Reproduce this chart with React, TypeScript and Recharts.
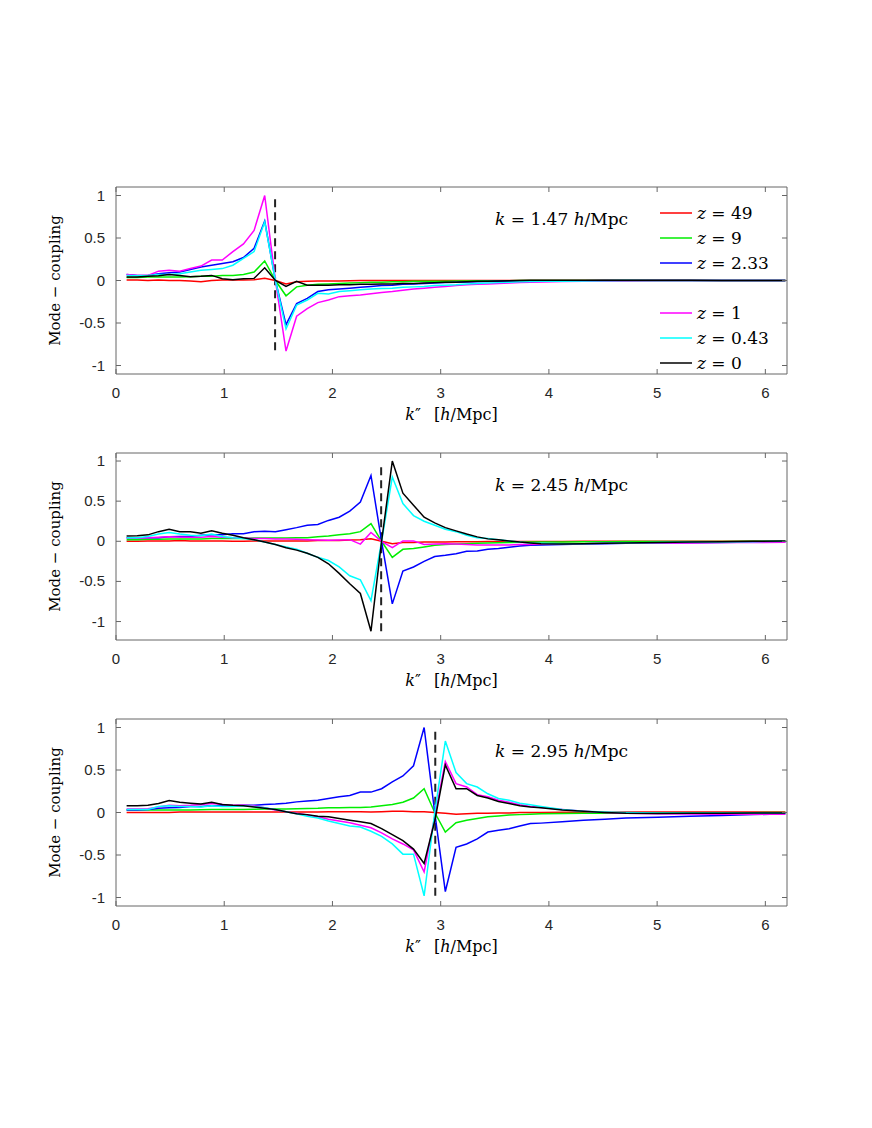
import React from "react";
import { LineChart, Line, XAxis, YAxis, ReferenceArea, ReferenceLine, Legend } from "recharts";

// k'' grid (h/Mpc)
const kpp = [
  0.098, 0.196, 0.295, 0.393, 0.491, 0.589, 0.687, 0.785, 0.884, 0.982,
  1.08, 1.178, 1.276, 1.374, 1.473, 1.571, 1.669, 1.767, 1.865, 1.963,
  2.062, 2.16, 2.258, 2.356, 2.454, 2.553, 2.651, 2.749, 2.847, 2.945,
  3.043, 3.142, 3.24, 3.338, 3.436, 3.534, 3.632, 3.731, 3.829, 3.927,
  4.123, 4.32, 4.516, 4.712, 5.007, 5.301, 5.596, 5.89, 6.185,
];

// panel 1: k = 1.47
const red1 = [
  0.005, 0.005, 0, 0.005, 0, 0, -0.005, -0.015, 0, 0.005,
  0.005, 0.005, 0.01, 0.025, 0, -0.04, -0.015, -0.01, -0.005, -0.005,
  -0.005, -0.003, 0, 0, 0, 0, 0, 0, 0, 0,
  0, 0, 0, 0, 0, 0, 0, 0, 0, 0,
  0, 0, 0, 0, 0, 0, 0, 0, 0,
];
const green1 = [
  0.035, 0.035, 0.04, 0.04, 0.04, 0.04, 0.045, 0.05, 0.05, 0.06,
  0.06, 0.07, 0.1, 0.23, 0, -0.18, -0.075, -0.055, -0.045, -0.04,
  -0.035, -0.03, -0.025, -0.02, -0.02, -0.015, -0.015, -0.01, -0.01, -0.01,
  -0.008, -0.006, -0.005, -0.004, -0.003, -0.002, -0.002, -0.001, 0, 0,
  0, 0, 0, 0, 0, 0, 0, 0, 0,
];
const blue1 = [
  0.07, 0.06, 0.06, 0.08, 0.09, 0.1, 0.13, 0.16, 0.18, 0.2,
  0.22, 0.27, 0.38, 0.7, 0, -0.52, -0.27, -0.21, -0.13, -0.11,
  -0.1, -0.09, -0.08, -0.07, -0.06, -0.055, -0.045, -0.04, -0.035, -0.03,
  -0.025, -0.02, -0.018, -0.015, -0.012, -0.01, -0.008, -0.006, -0.005, -0.004,
  -0.003, -0.002, 0, 0, 0, 0, 0, 0, 0,
];
const magenta1 = [
  0.07, 0.06, 0.06, 0.11, 0.12, 0.11, 0.14, 0.17, 0.24, 0.24,
  0.34, 0.43, 0.59, 1.0, 0, -0.83, -0.42, -0.33, -0.26, -0.23,
  -0.19, -0.18, -0.17, -0.155, -0.14, -0.13, -0.115, -0.1, -0.09, -0.08,
  -0.07, -0.06, -0.05, -0.045, -0.04, -0.035, -0.03, -0.025, -0.02, -0.018,
  -0.012, -0.008, -0.005, -0.003, 0, 0, 0, 0, 0,
];
const cyan1 = [
  0.06, 0.055, 0.06, 0.07, 0.07, 0.08, 0.1, 0.12, 0.13, 0.14,
  0.18, 0.26, 0.34, 0.69, 0, -0.57, -0.29, -0.23, -0.15, -0.16,
  -0.13, -0.12, -0.11, -0.1, -0.095, -0.09, -0.08, -0.075, -0.07, -0.06,
  -0.055, -0.05, -0.04, -0.035, -0.03, -0.025, -0.02, -0.015, -0.012, -0.01,
  -0.008, -0.005, -0.003, 0, 0, 0, 0, 0, 0,
];
const black1 = [
  0.04, 0.04, 0.05, 0.055, 0.07, 0.06, 0.045, 0.05, 0.06, 0.02,
  0.01, 0.02, 0.025, 0.15, 0, -0.07, -0.01, -0.055, -0.055, -0.055,
  -0.05, -0.05, -0.045, -0.045, -0.04, -0.04, -0.035, -0.035, -0.03, -0.025,
  -0.02, -0.02, -0.015, -0.01, -0.008, -0.005, -0.003, 0, 0.002, 0.002,
  0.003, 0.003, 0.003, 0.002, 0.002, 0.002, 0.001, 0.001, 0,
];

// panel 2: k = 2.45
const red2 = [
  0, 0, 0.005, 0.005, 0.005, 0.01, 0.005, 0.005, 0.005, 0.005,
  0, 0, 0.005, 0.005, 0.005, 0.005, 0.005, 0.005, 0.01, 0.01,
  0.01, 0.015, 0.02, 0.03, 0, -0.03, -0.015, -0.015, -0.01, -0.01,
  -0.008, -0.006, -0.005, -0.005, -0.004, -0.004, -0.003, -0.003, -0.002, -0.002,
  -0.002, -0.001, 0, 0, 0, 0, 0, 0, 0,
];
const green2 = [
  0.02, 0.02, 0.025, 0.025, 0.03, 0.03, 0.03, 0.03, 0.035, 0.035,
  0.035, 0.035, 0.04, 0.04, 0.04, 0.04, 0.045, 0.045, 0.055, 0.065,
  0.08, 0.095, 0.12, 0.22, 0, -0.2, -0.1, -0.09, -0.07, -0.05,
  -0.04, -0.035, -0.03, -0.025, -0.02, -0.018, -0.015, -0.012, -0.01, -0.01,
  -0.008, -0.006, -0.005, -0.004, -0.003, -0.002, -0.002, -0.001, 0,
];
const blue2 = [
  0.045, 0.045, 0.045, 0.045, 0.055, 0.06, 0.06, 0.075, 0.08, 0.08,
  0.095, 0.095, 0.12, 0.125, 0.12, 0.145, 0.17, 0.2, 0.21, 0.26,
  0.3, 0.375, 0.49, 0.82, 0, -0.78, -0.37, -0.32, -0.25, -0.19,
  -0.175, -0.155, -0.125, -0.12, -0.1, -0.09, -0.075, -0.06, -0.05, -0.045,
  -0.04, -0.035, -0.03, -0.025, -0.02, -0.018, -0.015, -0.01, -0.008,
];
const magenta2 = [
  0.04, 0.04, 0.045, 0.05, 0.055, 0.05, 0.05, 0.05, 0.06, 0.05,
  0.045, 0.04, 0.035, 0.035, 0.03, 0.03, 0.025, 0.02, 0.015, 0.012,
  0.015, 0.02, -0.035, 0.11, 0, -0.08, 0.005, 0.005, -0.04, -0.035,
  -0.03, -0.035, -0.04, -0.045, -0.045, -0.045, -0.045, -0.04, -0.04, -0.035,
  -0.03, -0.03, -0.025, -0.025, -0.02, -0.02, -0.015, -0.015, -0.012,
];
const cyan2 = [
  0.045, 0.045, 0.06, 0.09, 0.11, 0.09, 0.075, 0.07, 0.09, 0.06,
  0.045, 0.035, 0.02, -0.01, -0.04, -0.07, -0.1, -0.15, -0.2, -0.24,
  -0.32, -0.43, -0.48, -0.74, 0, 0.8, 0.47, 0.32, 0.25, 0.2,
  0.15, 0.12, 0.075, 0.045, 0.035, 0.02, 0.005, -0.01, -0.02, -0.025,
  -0.03, -0.03, -0.025, -0.02, -0.015, -0.01, -0.008, -0.005, 0,
];
const black2 = [
  0.067, 0.07, 0.08, 0.12, 0.15, 0.12, 0.12, 0.1, 0.13, 0.1,
  0.075, 0.045, 0.02, -0.01, -0.04, -0.08, -0.11, -0.15, -0.2, -0.28,
  -0.4, -0.53, -0.65, -1.12, 0, 1.0, 0.6, 0.45, 0.3, 0.23,
  0.17, 0.13, 0.09, 0.055, 0.03, 0.02, 0.005, -0.01, -0.02, -0.03,
  -0.035, -0.03, -0.025, -0.02, -0.015, -0.01, -0.005, 0, 0.005,
];

// panel 3: k = 2.95
const red3 = [
  0, 0, 0, 0, 0, 0.005, 0.005, 0.005, 0.005, 0.005,
  0.005, 0.005, 0.005, 0.005, 0.005, 0.005, 0.005, 0.005, 0.005, 0.01,
  0.01, 0.01, 0.01, 0.005, 0.01, 0.015, 0.015, 0.01, 0.01, 0,
  -0.01, -0.02, -0.015, -0.01, -0.008, -0.005, -0.005, 0, 0, 0,
  0.002, 0.003, 0.004, 0.005, 0.005, 0.005, 0.005, 0.005, 0.005,
];
const green3 = [
  0.03, 0.03, 0.03, 0.03, 0.03, 0.03, 0.03, 0.032, 0.034, 0.035,
  0.035, 0.036, 0.038, 0.04, 0.04, 0.042, 0.045, 0.048, 0.05, 0.055,
  0.055, 0.06, 0.06, 0.065, 0.08, 0.095, 0.12, 0.17, 0.28, 0,
  -0.23, -0.12, -0.09, -0.07, -0.05, -0.04, -0.03, -0.025, -0.02, -0.015,
  -0.012, -0.01, -0.008, -0.006, -0.005, -0.004, -0.003, -0.002, 0,
];
const blue3 = [
  0.03, 0.03, 0.035, 0.05, 0.055, 0.06, 0.07, 0.07, 0.08, 0.08,
  0.08, 0.085, 0.085, 0.095, 0.1, 0.11, 0.125, 0.135, 0.145, 0.165,
  0.185, 0.2, 0.24, 0.24, 0.28, 0.36, 0.43, 0.55, 1.0, 0,
  -0.93, -0.41, -0.37, -0.31, -0.23, -0.21, -0.19, -0.16, -0.13, -0.125,
  -0.11, -0.09, -0.08, -0.065, -0.055, -0.045, -0.035, -0.025, -0.015,
];
const magenta3 = [
  0.04, 0.04, 0.045, 0.065, 0.085, 0.08, 0.085, 0.095, 0.105, 0.095,
  0.085, 0.085, 0.08, 0.055, 0.03, 0.01, -0.01, -0.03, -0.05, -0.08,
  -0.1, -0.12, -0.15, -0.18, -0.24, -0.31, -0.37, -0.44, -0.7, -0.05,
  0.6, 0.34, 0.3, 0.21, 0.185, 0.145, 0.12, 0.09, 0.07, 0.06,
  0.035, 0.015, 0, -0.01, -0.015, -0.018, -0.02, -0.02, -0.02,
];
const cyan3 = [
  0.035, 0.035, 0.035, 0.07, 0.08, 0.07, 0.07, 0.065, 0.08, 0.07,
  0.07, 0.08, 0.07, 0.055, 0.035, 0.01, -0.015, -0.045, -0.065, -0.1,
  -0.13, -0.16, -0.17, -0.22, -0.28, -0.37, -0.49, -0.49, -0.98, 0,
  0.84, 0.47, 0.34, 0.3, 0.22, 0.165, 0.145, 0.11, 0.09, 0.07,
  0.035, 0.015, 0.005, 0, -0.005, -0.005, -0.005, -0.005, -0.005,
];
const black3 = [
  0.08, 0.08, 0.085, 0.105, 0.14, 0.12, 0.11, 0.1, 0.12, 0.095,
  0.085, 0.08, 0.065, 0.05, 0.035, 0.01, -0.015, -0.025, -0.045, -0.05,
  -0.07, -0.09, -0.11, -0.13, -0.19, -0.26, -0.33, -0.43, -0.6, -0.1,
  0.56, 0.28, 0.28, 0.2, 0.17, 0.13, 0.105, 0.08, 0.065, 0.055,
  0.03, 0.015, 0, -0.01, -0.012, -0.01, -0.008, -0.005, -0.005,
];

const X_TICKS = [0, 1, 2, 3, 4, 5, 6];
const Y_TICKS = [-1, -0.5, 0, 0.5, 1];

const SERIES = [
  { key: "z49", z: "49", color: "#ff0000" },
  { key: "z9", z: "9", color: "#00ee00" },
  { key: "z233", z: "2.33", color: "#0000ff" },
  { key: "z1", z: "1", color: "#ff00ff" },
  { key: "z043", z: "0.43", color: "#00ffff" },
  { key: "z0", z: "0", color: "#000000" },
];

const build = (cols: number[][]) =>
  kpp.map((k, i) => {
    const row: any = { k };
    SERIES.forEach((s, j) => (row[s.key] = cols[j][i]));
    return row;
  });

const PANELS = [
  { top: 187, kLabel: "1.47", kRef: 1.47, dash: [-0.82, 1.0], yDomain: [-1.1, 1.1], legend: true,
    rows: build([red1, green1, blue1, magenta1, cyan1, black1]) },
  { top: 453, kLabel: "2.45", kRef: 2.45, dash: [-1.12, 0.94], yDomain: [-1.23, 1.1], legend: false,
    rows: build([red2, green2, blue2, magenta2, cyan2, black2]) },
  { top: 719, kLabel: "2.95", kRef: 2.95, dash: [-0.98, 0.97], yDomain: [-1.1, 1.1], legend: false,
    rows: build([red3, green3, blue3, magenta3, cyan3, black3]) },
];

const W = 872;
const PLOT_L = 116;
const PLOT_R = 787;
const PLOT_H = 187;
const MT = 10;
const AXIS = "#666666";
const TICK_TXT = "#262626";
const SANS = "'Liberation Sans', Arial, Helvetica, sans-serif";
const SERIF = "'DejaVu Serif', 'Liberation Serif', serif";

const XTick = (props: any) => {
  const { x, y, payload } = props;
  return (
    <g>
      <line x1={x} y1={y} x2={x} y2={y - 5} stroke={AXIS} />
      <line x1={x} y1={y - PLOT_H} x2={x} y2={y - PLOT_H + 5} stroke={AXIS} />
      <text x={x} y={y + 24} textAnchor="middle" fill={TICK_TXT} fontFamily={SANS} fontSize={15}>
        {payload.value}
      </text>
    </g>
  );
};

const YTick = (props: any) => {
  const { x, y, payload } = props;
  const pw = PLOT_R - PLOT_L;
  return (
    <g>
      <line x1={x} y1={y} x2={x + 5} y2={y} stroke={AXIS} />
      <line x1={x + pw} y1={y} x2={x + pw - 5} y2={y} stroke={AXIS} />
      <text x={x - 11} y={y + 5} textAnchor="end" fill={TICK_TXT} fontFamily={SANS} fontSize={15}>
        {payload.value}
      </text>
    </g>
  );
};

const renderLegend = () => (
  <div style={{ fontFamily: SERIF, fontSize: 17, color: "#000" }}>
    {SERIES.map((s, i) => (
      <div key={s.key} style={{ display: "flex", alignItems: "center", height: 25, marginTop: i === 3 ? 25 : 0 }}>
        <svg width={32} height={4}>
          <line x1={0} y1={2} x2={32} y2={2} stroke={s.color} strokeWidth={1.5} />
        </svg>
        <span style={{ marginLeft: 5, whiteSpace: "nowrap" }}>
          <i>z</i> = {s.z}
        </span>
      </div>
    ))}
  </div>
);

const Panel = ({ p }: { p: (typeof PANELS)[number] }) => {
  const [lo, hi] = p.yDomain;
  return (
    <div style={{ position: "absolute", left: 0, top: p.top - MT }}>
      <LineChart
        width={W}
        height={PLOT_H + MT + 60}
        data={p.rows}
        margin={{ top: MT, right: W - PLOT_R, bottom: 30, left: PLOT_L - 40 }}
      >
        <XAxis
          dataKey="k"
          type="number"
          domain={[0, 6.2]}
          ticks={X_TICKS}
          interval={0}
          allowDataOverflow
          height={30}
          tickSize={0}
          tickMargin={0}
          axisLine={false}
          tickLine={false}
          tick={(t: any) => <XTick {...t} />}
          label={{
            content: () => (
              <text x={(PLOT_L + PLOT_R) / 2} y={MT + PLOT_H + 46} textAnchor="middle" fontFamily={SERIF} fontSize={16} fill="#000">
                <tspan fontStyle="italic">k</tspan>
                <tspan>″</tspan>
                <tspan dx={13}>[</tspan>
                <tspan fontStyle="italic">h</tspan>
                <tspan>/Mpc]</tspan>
              </text>
            ),
          }}
        />
        <YAxis
          type="number"
          domain={[lo, hi]}
          ticks={Y_TICKS}
          interval={0}
          allowDataOverflow
          width={40}
          tickSize={0}
          tickMargin={0}
          axisLine={false}
          tickLine={false}
          tick={(t: any) => <YTick {...t} />}
          label={{
            content: () => (
              <text
                x={55}
                y={MT + PLOT_H / 2}
                transform={`rotate(-90 55 ${MT + PLOT_H / 2})`}
                textAnchor="middle"
                dominantBaseline="central"
                fontFamily={SERIF}
                fontSize={15}
                fill="#000"
              >
                Mode − coupling
              </text>
            ),
          }}
        />
        <ReferenceArea
          x1={0}
          x2={6.2}
          y1={lo}
          y2={hi}
          fill="none"
          fillOpacity={0}
          stroke={AXIS}
          strokeWidth={1}
          label={{
            content: () => (
              <text x={495} y={MT + 38} fontFamily={SERIF} fontSize={17} fill="#000">
                <tspan fontStyle="italic">k</tspan>
                <tspan> = {p.kLabel} </tspan>
                <tspan fontStyle="italic">h</tspan>
                <tspan>/Mpc</tspan>
              </text>
            ),
          }}
        />
        <ReferenceLine
          segment={[
            { x: p.kRef, y: p.dash[0] },
            { x: p.kRef, y: p.dash[1] },
          ]}
          stroke="#222222"
          strokeWidth={2}
          strokeDasharray="8 5"
        />
        {SERIES.map((s) => (
          <Line
            key={s.key}
            dataKey={s.key}
            stroke={s.color}
            strokeWidth={1.5}
            dot={false}
            activeDot={false}
            isAnimationActive={false}
          />
        ))}
        {p.legend && (
          <Legend
            layout="horizontal"
            verticalAlign="middle"
            align="center"
            content={renderLegend}
            wrapperStyle={{ left: 660, top: 213 - (p.top - MT) - 12.5, width: 130 }}
          />
        )}
      </LineChart>
    </div>
  );
};

export default function App() {
  return (
    <div style={{ position: "absolute", left: 0, top: 0, width: W, height: 1128, background: "#fff" }}>
      {PANELS.map((p) => (
        <Panel key={p.kLabel} p={p} />
      ))}
    </div>
  );
}
